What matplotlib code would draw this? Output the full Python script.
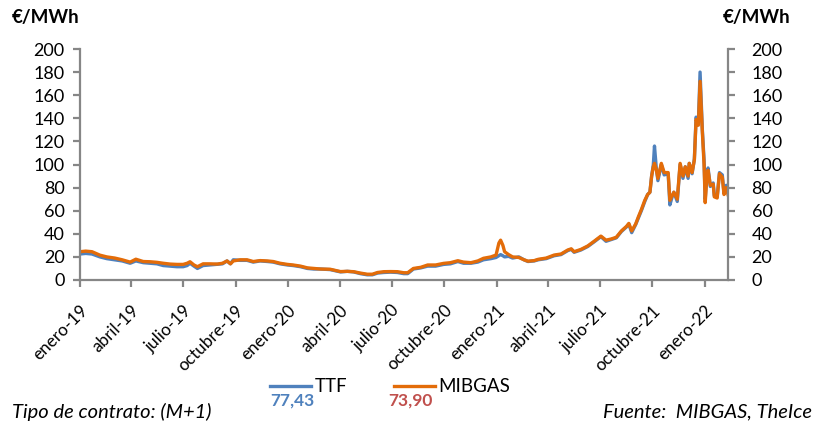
import matplotlib
matplotlib.use("Agg")
import matplotlib.pyplot as plt
import pandas as pd

dates = [
    "2019-01-01", "2019-01-11", "2019-01-22", "2019-02-05", "2019-02-17", "2019-03-03",
    "2019-03-16", "2019-03-30", "2019-04-09", "2019-04-22", "2019-05-04", "2019-05-16",
    "2019-05-27", "2019-06-08", "2019-06-20", "2019-07-01", "2019-07-08", "2019-07-13",
    "2019-07-20", "2019-07-26", "2019-08-05", "2019-08-17", "2019-08-30", "2019-09-08",
    "2019-09-16", "2019-09-22", "2019-09-27", "2019-10-09", "2019-10-21", "2019-11-01",
    "2019-11-13", "2019-11-26", "2019-12-06", "2019-12-18", "2019-12-31", "2020-01-10",
    "2020-01-23", "2020-02-04", "2020-02-15", "2020-02-27", "2020-03-15", "2020-04-02",
    "2020-04-14", "2020-04-25", "2020-05-07", "2020-05-19", "2020-05-28", "2020-06-06",
    "2020-06-17", "2020-06-29", "2020-07-11", "2020-07-22", "2020-07-29", "2020-08-08",
    "2020-08-21", "2020-09-02", "2020-09-16", "2020-09-30", "2020-10-12", "2020-10-25",
    "2020-11-04", "2020-11-17", "2020-11-29", "2020-12-09", "2020-12-22", "2020-12-31",
    "2021-01-05", "2021-01-08", "2021-01-12", "2021-01-15", "2021-01-22", "2021-01-29",
    "2021-02-09", "2021-02-18", "2021-02-25", "2021-03-08", "2021-03-15", "2021-03-29",
    "2021-04-12", "2021-04-24", "2021-05-06", "2021-05-12", "2021-05-17", "2021-05-29",
    "2021-06-10", "2021-06-21", "2021-07-03", "2021-07-12", "2021-07-21", "2021-07-30",
    "2021-08-08", "2021-08-17", "2021-08-21", "2021-08-26", "2021-09-02", "2021-09-07",
    "2021-09-12", "2021-09-18", "2021-09-23", "2021-09-27", "2021-09-30", "2021-10-03",
    "2021-10-05", "2021-10-08", "2021-10-11", "2021-10-17", "2021-10-22", "2021-10-29",
    "2021-11-01", "2021-11-05", "2021-11-08", "2021-11-14", "2021-11-19", "2021-11-24",
    "2021-11-28", "2021-12-03", "2021-12-05", "2021-12-10", "2021-12-14", "2021-12-17",
    "2021-12-21", "2021-12-24", "2021-12-28", "2021-12-31", "2022-01-02", "2022-01-05",
    "2022-01-07", "2022-01-11", "2022-01-16", "2022-01-18", "2022-01-23", "2022-01-27",
    "2022-02-01", "2022-02-04", "2022-02-08", "2022-02-11",
]

ttf = [
    22.5, 23.0, 22.5, 20.0, 18.5, 17.5,
    16.5, 14.5, 16.5, 15.0, 14.5, 14.0,
    12.5, 12.0, 11.5, 11.5, 12.5, 14.5,
    12.0, 10.0, 12.5, 13.0, 13.5, 14.0,
    16.5, 14.0, 17.5, 17.0, 17.0, 15.5,
    16.5, 16.0, 15.5, 14.0, 13.0, 12.5,
    11.5, 10.0, 9.5, 9.5, 9.0, 7.0,
    7.5, 7.0, 5.5, 4.5, 4.5, 6.0,
    6.5, 6.8, 6.5, 5.5, 5.5, 9.5,
    10.5, 12.0, 12.0, 13.5, 14.0, 16.0,
    14.5, 14.5, 15.5, 17.5, 18.5, 19.5,
    21.0, 22.0, 21.0, 20.0, 20.5, 19.0,
    20.0, 17.5, 16.0, 16.5, 17.5, 18.5,
    21.0, 22.0, 25.5, 26.5, 24.0, 26.0,
    29.0, 33.0, 37.5, 33.5, 35.0, 36.5,
    42.0, 46.0, 48.5, 41.0, 48.0, 54.0,
    60.0, 68.0, 74.0, 76.0, 90.0, 100.0,
    116.0, 98.0, 86.0, 100.0, 91.0, 92.0,
    65.0, 72.0, 76.0, 68.0, 100.0, 88.0,
    98.0, 88.0, 101.0, 92.0, 105.0, 141.0,
    136.0, 180.0, 130.0, 104.0, 70.0, 92.0,
    97.0, 81.0, 84.0, 73.0, 72.0, 93.0,
    91.0, 75.0, 82.0, 77.43,
]

mibgas = [
    24.5, 25.0, 24.5, 21.5, 20.0, 19.0,
    17.5, 15.5, 18.0, 16.0, 15.8, 15.3,
    14.5, 13.8, 13.5, 13.5, 14.5, 15.8,
    13.0, 11.5, 14.0, 14.0, 13.8, 14.5,
    16.5, 14.0, 16.5, 17.5, 17.5, 16.0,
    16.8, 16.5, 16.0, 14.5, 13.5, 13.0,
    12.0, 10.5, 10.0, 9.5, 9.3, 7.3,
    7.5, 7.2, 6.0, 5.0, 5.0, 6.5,
    7.2, 7.3, 7.2, 6.3, 6.3, 10.0,
    11.0, 13.0, 13.0, 14.4, 15.0, 16.7,
    15.5, 15.0, 16.5, 18.8, 20.0, 21.6,
    32.0, 34.5, 30.0, 24.5, 22.0, 20.0,
    19.5, 17.5, 16.3, 16.8, 17.9, 19.0,
    21.6, 22.5, 26.0, 27.0, 24.5, 26.5,
    29.5, 33.5, 38.0, 34.5, 35.5, 37.0,
    42.5, 46.5, 49.0, 42.5, 48.5, 55.0,
    61.0, 69.0, 74.0, 76.0, 90.0, 98.0,
    101.0, 96.0, 88.0, 101.0, 93.0, 93.0,
    69.0, 73.0, 76.0, 70.0, 101.0, 90.0,
    98.0, 90.0, 101.0, 93.0, 104.0, 139.0,
    134.0, 172.0, 128.0, 100.0, 67.0, 90.0,
    95.0, 82.0, 83.0, 72.0, 71.0, 92.0,
    89.0, 74.0, 80.0, 73.90,
]

series_names = ["TTF", "MIBGAS"]
last_labels = ["77,43", "73,90"]
y_ticks = list(range(0, 201, 20))
x_tick_dates = ["2019-01-01", "2019-04-01", "2019-07-01", "2019-10-01",
                "2020-01-01", "2020-04-01", "2020-07-01", "2020-10-01",
                "2021-01-01", "2021-04-01", "2021-07-01", "2021-10-01",
                "2022-01-01"]
x_tick_labels = ["enero-19", "abril-19", "julio-19", "octubre-19",
                 "enero-20", "abril-20", "julio-20", "octubre-20",
                 "enero-21", "abril-21", "julio-21", "octubre-21",
                 "enero-22"]

FONT = "Lato"
plt.rcParams["font.family"] = [FONT, "DejaVu Sans"]

c_ttf = "#4F81BD"
c_mib = "#E36C09"
c_red = "#C0504D"
grey = "#868686"

d = pd.to_datetime(dates)
fig = plt.figure(figsize=(8.2, 4.32), dpi=100)
ax = fig.add_axes([80 / 820, 1 - 280 / 432, (728 - 80) / 820, (280 - 49) / 432])

l1, = ax.plot(d, ttf, color=c_ttf, lw=2.4, solid_joinstyle="round", label=series_names[0])
l2, = ax.plot(d, mibgas, color=c_mib, lw=2.4, solid_joinstyle="round", label=series_names[1])

ax.set_xlim(d[0], d[-1])
ax.set_ylim(0, 200)
ax.set_yticks(y_ticks)
ax.set_xticks(pd.to_datetime(x_tick_dates))
ax.set_xticklabels(x_tick_labels, rotation=45, ha="right", va="top",
                   rotation_mode="anchor", fontsize=12.3)

ax2 = ax.twinx()
ax2.set_ylim(0, 200)
ax2.set_yticks(y_ticks)

for a in (ax, ax2):
    for s in a.spines.values():
        s.set_color(grey)
        s.set_linewidth(1.6)
    a.spines["top"].set_visible(False)
    a.tick_params(colors=grey, labelcolor="black", width=1.6, length=5,
                  direction="out", labelsize=13)
ax.tick_params(axis="x", pad=11, labelsize=12.3)
ax.tick_params(axis="y", pad=6)
ax2.tick_params(axis="y", pad=12)
ax.spines["right"].set_visible(False)
ax2.spines["left"].set_visible(False)
ax2.spines["bottom"].set_visible(False)

fig.text(12 / 820, 1 - 18 / 432, "€/MWh", fontsize=13.5, fontweight="bold",
         ha="left", va="center")
fig.text(790 / 820, 1 - 18 / 432, "€/MWh", fontsize=13.5, fontweight="bold",
         ha="right", va="center")

leg = ax.legend(handles=[l1, l2], loc="center", ncol=2, frameon=False,
                bbox_to_anchor=(390 / 820, 1 - 387 / 432),
                bbox_transform=fig.transFigure, fontsize=13.5,
                handlelength=2.2, handletextpad=0.15, columnspacing=2.5,
                borderpad=0.0)

fig.text(292 / 820, 1 - 401 / 432, last_labels[0], color=c_ttf, fontsize=12.5,
         fontweight="bold", ha="center", va="center")
fig.text(410 / 820, 1 - 401 / 432, last_labels[1], color=c_red, fontsize=12.5,
         fontweight="bold", ha="center", va="center")

fig.text(12 / 820, 1 - 412 / 432, "Tipo de contrato: (M+1)", fontsize=14.5,
         style="italic", ha="left", va="center")
fig.text(812 / 820, 1 - 412 / 432, "Fuente:  MIBGAS, TheIce", fontsize=14.5,
         style="italic", ha="right", va="center")

fig.savefig("out.png", dpi=100)
